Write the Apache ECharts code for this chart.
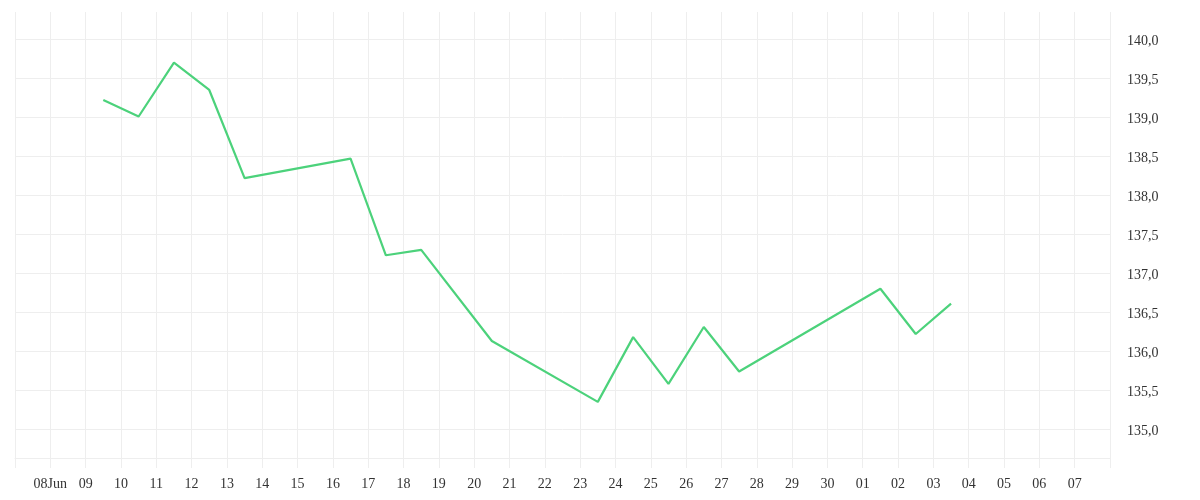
<!DOCTYPE html>
<html>
<head>
<meta charset="utf-8">
<script src="https://cdn.jsdelivr.net/npm/echarts@6/dist/echarts.min.js"></script>
<style>
html, body { margin: 0; padding: 0; background: #ffffff; }
#chart { width: 1200px; height: 500px; }
</style>
</head>
<body>
<div id="chart"></div>
<script>
// ---- data ----
const dates = ['2025-06-09','2025-06-10','2025-06-11','2025-06-12','2025-06-13',
  '2025-06-16','2025-06-17','2025-06-18','2025-06-20',
  '2025-06-23','2025-06-24','2025-06-25','2025-06-26','2025-06-27',
  '2025-07-01','2025-07-02','2025-07-03'];
const values = [139.22, 139.01, 139.70, 139.35, 138.22,
  138.47, 137.23, 137.30, 136.13,
  135.35, 136.18, 135.58, 136.31, 135.74,
  136.80, 136.22, 136.61];
const axisStart = '2025-06-07';
const axisEnd = '2025-07-08';
const yMin = 134.63;
const yMax = 140.35;
const monthLabelDate = '2025-06-08';
const monthLabelText = 'Jun';

function parseDay(s, hour) {
  const p = s.split('-').map(Number);
  return new Date(p[0], p[1] - 1, p[2], hour || 0).getTime();
}
const seriesData = dates.map((d, i) => [parseDay(d, 12), values[i]]);
const monthLabelTs = parseDay(monthLabelDate, 0);
const xMinTs = parseDay(axisStart, 0);
const xMaxTs = parseDay(axisEnd, 0);
const DAY = 24 * 3600 * 1000;
const gridColor = '#eeeeee';
const textColor = '#333333';
const font = "'Liberation Serif', serif";

// y split line colours: hide the top boundary line
const ySplitColors = [];
for (let i = 0; i < 12; i++) ySplitColors.push(gridColor);
ySplitColors.push('rgba(0,0,0,0)');

const chart = echarts.init(document.getElementById('chart'), null, { renderer: 'canvas' });
chart.setOption({
  animation: false,
  backgroundColor: '#ffffff',
  grid: { left: 15, right: 90, top: 12, bottom: 42, containLabel: false },
  xAxis: {
    type: 'time',
    min: xMinTs,
    max: xMaxTs,
    minInterval: DAY,
    maxInterval: DAY,
    axisLine: { show: true, lineStyle: { color: gridColor, width: 1 } },
    axisTick: { show: true, length: 10, lineStyle: { color: gridColor, width: 1 } },
    splitLine: { show: true, lineStyle: { color: gridColor, width: 1 } },
    axisLabel: {
      showMinLabel: false,
      showMaxLabel: false,
      margin: 19,
      color: textColor,
      fontFamily: font,
      fontSize: 14,
      hideOverlap: false,
      formatter: function (val) {
        const d = new Date(val);
        const dayStart = new Date(d.getFullYear(), d.getMonth(), d.getDate()).getTime();
        if (dayStart <= xMinTs || dayStart >= xMaxTs) return '';
        const dd = String(d.getDate()).padStart(2, '0');
        return dayStart === monthLabelTs ? dd + monthLabelText : dd;
      }
    }
  },
  yAxis: {
    type: 'value',
    position: 'right',
    min: yMin,
    max: yMax,
    splitNumber: 11,
    scale: true,
    axisLine: { show: false },
    axisTick: { show: false },
    splitLine: { show: true, lineStyle: { color: ySplitColors, width: 1 } },
    axisLabel: {
      showMinLabel: false,
      showMaxLabel: false,
      margin: 17,
      color: textColor,
      fontFamily: font,
      fontSize: 14,
      verticalAlign: 'top',
      lineHeight: 5,
      formatter: function (v) {
        if (Math.abs(v * 2 - Math.round(v * 2)) > 1e-6) return '';
        return v.toFixed(1).replace('.', ',');
      }
    }
  },
  series: [{
    type: 'line',
    data: seriesData,
    showSymbol: false,
    smooth: false,
    lineStyle: { color: '#4cd27b', width: 2.2 },
    itemStyle: { color: '#4cd27b' }
  }]
});
</script>
</body>
</html>
